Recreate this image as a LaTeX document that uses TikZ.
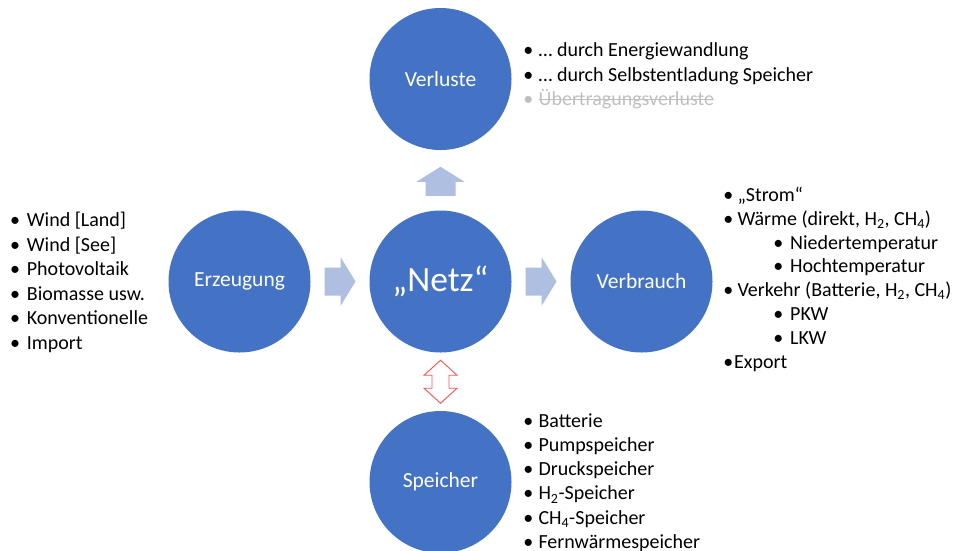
\documentclass[tikz,border=0pt]{standalone}
\usepackage{fontspec}
\setmainfont{Carlito}
\usetikzlibrary{calc}
\definecolor{circ}{HTML}{4472C4}
\definecolor{arr}{HTML}{AFBFE2}
\definecolor{redo}{HTML}{FF5050}
\definecolor{strk}{HTML}{BFBFBF}
\begin{document}
\begin{tikzpicture}[x=1pt,y=-1pt,
  bigcirc/.style={circle,fill=circ,draw=none,minimum size=142pt,inner sep=0pt,text=white,font=\fontsize{21.5}{26}\selectfont},
  bul/.style={anchor=base,inner sep=0pt,font=\fontsize{20}{24}\selectfont},
  itm/.style={anchor=base west,inner sep=0pt,font=\fontsize{20}{24}\selectfont},
  blockarrow/.style={fill=arr,draw=none},
  dblarrow/.style={draw=redo,fill=white,line width=0.9pt,line join=miter}]
\useasboundingbox (0,0) rectangle (955,550);
\clip (0,0) rectangle (955,550);

% circles
\node[bigcirc] (verl) at (440.5,79) {Verluste};
\node[bigcirc] (erz)  at (239.5,281.5) {Erzeugung};
\node[bigcirc,font=\fontsize{35.5}{42}\selectfont] (netz) at (440.5,281.5) {„Netz“};
\node[bigcirc] (verb) at (641.5,281.5) {Verbrauch};
\node[bigcirc] (spei) at (440.5,482) {Speicher};

% block arrows
\coordinate (m1) at ($(erz.east)!0.5!(netz.west)$);
\coordinate (m2) at ($(netz.east)!0.5!(verb.west)$);
\coordinate (m3) at ($(verl.south)!0.5!(netz.north)$);
\coordinate (m4) at ($(netz.south)!0.5!(spei.north)$);
\begin{scope}[shift={(m1)}]
  \fill[blockarrow] (-15.5,-14) -- (0.5,-14) -- (0.5,-24.5) -- (15.5,0) -- (0.5,24.5) -- (0.5,14) -- (-15.5,14) -- cycle;
\end{scope}
\begin{scope}[shift={(m2)}]
  \fill[blockarrow] (-15.5,-14) -- (0.5,-14) -- (0.5,-24.5) -- (15.5,0) -- (0.5,24.5) -- (0.5,14) -- (-15.5,14) -- cycle;
\end{scope}
\begin{scope}[shift={(m3)}]
  \fill[blockarrow] (-15,15.5) -- (-15,1.5) -- (-24,1.5) -- (0,-13.5) -- (24,1.5) -- (15,1.5) -- (15,15.5) -- cycle;
\end{scope}
\begin{scope}[shift={(m4)}]
  \draw[dblarrow] (0,-21.5) -- (16.5,-6.5) -- (8.5,-6.5) -- (8.5,6.5) -- (16.5,6.5) -- (0,21.5)
     -- (-16.5,6.5) -- (-8.5,6.5) -- (-8.5,-6.5) -- (-16.5,-6.5) -- cycle;
\end{scope}

% left list (Erzeugung)
\foreach \t [count=\i] in {Wind [Land],Wind [See],Photovoltaik,Biomasse usw.,Konventionelle,Import}{
  \node[bul] (lb\i) at (15,{226.5+24.6*(\i-1)}) {•};
  \node[itm] (lt\i) at (26.7,{226.5+24.6*(\i-1)}) {\t};
}

% top list (Verluste)
\node[bul] (tb1) at (528.3,56.5) {•};
\node[itm] (tt1) at (538.5,56.5) {… durch Energiewandlung};
\node[bul] (tb2) at (528.3,81) {•};
\node[itm] (tt2) at (538.5,81) {… durch Selbstentladung Speicher};
\node[bul,text=strk] (tb3) at (528.3,105.5) {•};
\node[itm,text=strk] (tt3) at (538.5,105.5) {Übertragungsverluste};
\draw[strk,line width=1pt] ([yshift=6pt]tt3.base west) -- ([yshift=6pt]tt3.base east);

% right list (Verbrauch)
\node[bul] (rb1) at (728.3,201.5) {•};
\node[itm] (rt1) at (737.3,201.5) {„Strom“};
\node[bul] (rb2) at (728.3,225.3) {•};
\node[itm] (rt2) at (737.3,225.3) {Wärme (direkt, H\textsubscript{2}, CH\textsubscript{4})};
\node[bul] (rb3) at (778.3,249.1) {•};
\node[itm] (rt3) at (790,249.1) {Niedertemperatur};
\node[bul] (rb4) at (778.3,272.9) {•};
\node[itm] (rt4) at (790,272.9) {Hochtemperatur};
\node[bul] (rb5) at (728.3,296.7) {•};
\node[itm] (rt5) at (737.3,296.7) {Verkehr (Batterie, H\textsubscript{2}, CH\textsubscript{4})};
\node[bul] (rb6) at (778.3,320.5) {•};
\node[itm] (rt6) at (790,320.5) {PKW};
\node[bul] (rb7) at (778.3,344.3) {•};
\node[itm] (rt7) at (790,344.3) {LKW};
\node[bul] (rb8) at (728.3,368.1) {•};
\node[itm] (rt8) at (734,368.1) {Export};

% bottom list (Speicher)
\node[bul] (sb1) at (528.3,427.3) {•};
\node[itm] (st1) at (538.3,427.3) {Batterie};
\node[bul] (sb2) at (528.3,451.5) {•};
\node[itm] (st2) at (538.3,451.5) {Pumpspeicher};
\node[bul] (sb3) at (528.3,475.7) {•};
\node[itm] (st3) at (538.3,475.7) {Druckspeicher};
\node[bul] (sb4) at (528.3,499.9) {•};
\node[itm] (st4) at (538.3,499.9) {H\textsubscript{2}-Speicher};
\node[bul] (sb5) at (528.3,524.1) {•};
\node[itm] (st5) at (538.3,524.1) {CH\textsubscript{4}-Speicher};
\node[bul] (sb6) at (528.3,548.3) {•};
\node[itm] (st6) at (538.3,548.3) {Fernwärmespeicher};
\end{tikzpicture}
\end{document}
